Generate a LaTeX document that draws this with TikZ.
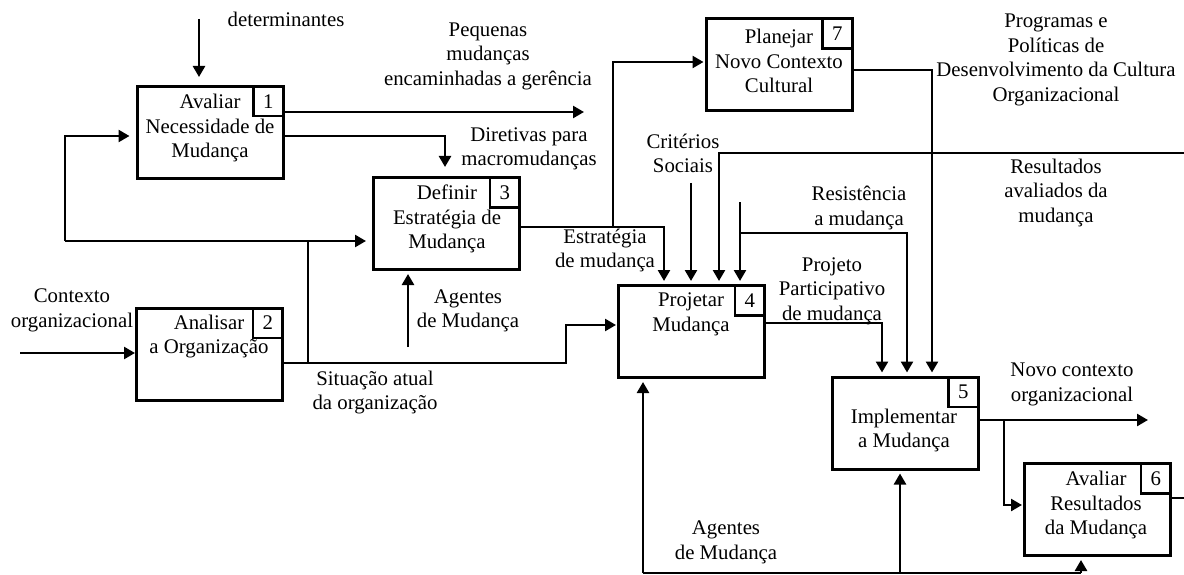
\documentclass[tikz,border=0pt]{standalone}
\usepackage{fontspec}
\setmainfont{Liberation Serif}
\usetikzlibrary{arrows.meta}
\begin{document}
\begin{tikzpicture}[x=1pt,y=-1pt,line width=2.5pt,
  lbl/.style={font=\fontsize{20.8}{24.5}\selectfont, align=center, inner sep=0pt},
  box/.style={draw, minimum width=146pt, minimum height=92pt, inner sep=0pt, line width=3pt},
  numbox/.style={draw, minimum width=30pt, minimum height=30pt, inner sep=0pt, anchor=north east, line width=2.5pt, font=\fontsize{20.8}{24.5}\selectfont},
  arr/.style={-{Triangle[length=11pt,width=12pt]}, shorten >=3pt}]
\useasboundingbox[fill=white] (0,0) rectangle (1184,575);
% boxes
\node[box] (b1) at (210,132.5) {};
\node[box] (b2) at (209.5,354) {};
\node[box] (b3) at (446.5,223.5) {};
\node[box] (b4) at (691.5,331.5) {};
\node[box] (b5) at (905,423) {};
\node[box] (b6) at (1097.5,509.5) {};
\node[box] (b7) at (779,65) {};
\node[numbox] (n1) at (b1.north east) {1};
\node[numbox] (n2) at (b2.north east) {2};
\node[numbox] (n3) at (b3.north east) {3};
\node[numbox] (n4) at (b4.north east) {4};
\node[numbox] (n5) at (b5.north east) {5};
\node[numbox] (n6) at (b6.north east) {6};
\node[numbox] (n7) at (b7.north east) {7};
% box texts
\node[lbl] (t1) at (210,128) {Avaliar\\Necessidade de\\Mudança};
\node[lbl] (t2) at (209,336.5) {Analisar\\a Organização};
\node[lbl] (t3) at (447,219) {Definir\\Estratégia de\\Mudança};
\node[lbl] (t4) at (691,314.5) {Projetar\\Mudança};
\node[lbl] (t5) at (904,430.5) {Implementar\\a Mudança};
\node[lbl] (t6) at (1096,505) {Avaliar\\Resultados\\da Mudança};
\node[lbl] (t7) at (779,61) {Planejar\\Novo Contexto\\Cultural};
% labels
\node[lbl] (L1) at (286,19) {determinantes};
\node[lbl] (L2) at (488,56) {Pequenas\\mudanças\\encaminhadas a gerência};
\node[lbl] (L3) at (529,149) {Diretivas para\\macromudanças};
\node[lbl] (L4) at (72,310.5) {Contexto\\organizacional};
\node[lbl] (L5) at (375,392.5) {Situação atual\\da organização};
\node[lbl] (L6) at (468,311) {Agentes\\de Mudança};
\node[lbl] (L7) at (605,250.5) {Estratégia\\de mudança};
\node[lbl] (L8) at (683,153.5) {Critérios\\Sociais};
\node[lbl] (L9) at (859,208) {Resistência\\a mudança};
\node[lbl] (L10) at (1056,60) {Programas e\\Políticas de\\Desenvolvimento da Cultura\\Organizacional};
\node[lbl] (L11) at (1056,192.5) {Resultados\\avaliados da\\mudança};
\node[lbl] (L12) at (832,291) {Projeto\\Participativo\\de mudança};
\node[lbl] (L13) at (1072,384.5) {Novo contexto\\organizacional};
\node[lbl] (L14) at (726,542.5) {Agentes\\de Mudança};
% connectors
\coordinate (d0) at (199,19);
\draw[arr, shorten >=8pt] (d0) -- (d0 |- b1.north);
\coordinate (p1) at (584,112);
\draw[arr, shorten >=0pt] (b1.east |- p1) -- (p1);
\coordinate (dv) at (445,136);
\draw[arr, shorten >=9pt] (b1.east |- dv) -| (dv |- b3.north);
\coordinate (j1) at (308,363);
\coordinate (j2) at (308,241);
\coordinate (j3) at (65,241);
\coordinate (j4) at (65,136);
\draw (j1) -- (j2);
\draw[arr, shorten >=6pt] (j3) -- (j3 -| b3.west);
\draw[arr, shorten >=6pt] (j3) -- (j4) -- (j4 -| b1.west);
\coordinate (s1) at (566,363);
\coordinate (s2) at (566,325);
\draw[arr, shorten >=1pt] (b2.east |- s1) -- (s1) -- (s2) -- (s2 -| b4.west);
\coordinate (a3) at (408,347);
\draw[arr] (a3) -- (a3 |- b3.south);
\coordinate (c0) at (20,353);
\draw[arr, shorten >=0pt] (c0) -- (c0 -| b2.west);
\coordinate (e1) at (664,227);
\draw[arr] (b3.east |- e1) -- (e1) -- (e1 |- b4.north);
\coordinate (e2) at (613,227);
\coordinate (e3) at (613,62);
\draw[arr, shorten >=1pt] (e2) -- (e3) -- (e3 -| b7.west);
\coordinate (k0) at (691,183);
\draw[arr] (k0) -- (k0 |- b4.north);
\coordinate (r0) at (1184,153);
\coordinate (r1) at (719,153);
\draw[arr] (r0) -- (r1) -- (r1 |- b4.north);
\coordinate (q0) at (740,202);
\draw[arr] (q0) -- (q0 |- b4.north);
\coordinate (q1) at (740,233);
\coordinate (q2) at (907,233);
\draw[arr] (q1) -- (q2) -- (q2 |- b5.north);
\coordinate (m1) at (932,70);
\draw[arr] (b7.east |- m1) -- (m1) -- (m1 |- b5.north);
\coordinate (o1) at (882,323);
\draw[arr] (b4.east |- o1) -- (o1) -- (o1 |- b5.north);
\coordinate (g0) at (643,573);
\coordinate (g1) at (900,573);
\coordinate (g2) at (1081,573);
\draw (g0) -- (g2);
\draw[arr] (g0) -- (g0 |- b4.south);
\draw[arr] (g1) -- (g1 |- b5.south);
\draw[arr] (g2) -- (g2 |- b6.south);
\coordinate (u1) at (1148,420);
\draw[arr, shorten >=0pt] (b5.east |- u1) -- (u1);
\coordinate (u2) at (1004,420);
\coordinate (u3) at (1004,505);
\draw[arr, shorten >=1pt] (u2) -- (u3) -- (u3 -| b6.west);
\coordinate (v1) at (1184,498);
\draw (b6.east |- v1) -- (v1);
\end{tikzpicture}
\end{document}
